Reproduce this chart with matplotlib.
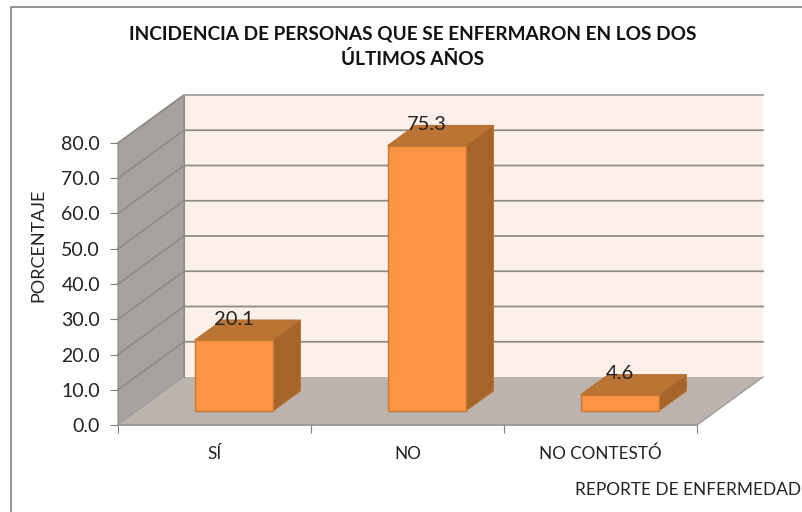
import numpy as np
import matplotlib
matplotlib.use('Agg')
import matplotlib.pyplot as plt
from matplotlib.patches import Polygon, Rectangle
from matplotlib.lines import Line2D

categories = ['SÍ', 'NO', 'NO CONTESTÓ']
values = [20.1, 75.3, 4.6]
y_ticks = [0, 10, 20, 30, 40, 50, 60, 70, 80]

W, H = 803, 512
plt.rcParams['font.family'] = ['Lato', 'DejaVu Sans']

fig = plt.figure(figsize=(W / 100, H / 100), dpi=100, facecolor='white')
# el eje coincide con el plano frontal del grafico 3D
ax = fig.add_axes([118 / W, 1 - 425 / H, (697 - 118) / W, (425 - 143) / H])
ax.set_xlim(-0.5, 2.5)
ax.set_ylim(0, 80)
ax.patch.set_visible(False)
for s in ax.spines.values():
    s.set_visible(False)

# profundidad en unidades de datos
px_x = 3.0 / 579
px_y = 80 / 282
dx = 66 * px_x
dy = 48 * px_y
x0, x1 = -0.5, 2.5


def poly(pts, **kw):
    ax.add_patch(Polygon(pts, closed=True, clip_on=False, **kw))


# marco del grafico
fig.add_artist(Line2D([11.5 / W, 11.5 / W, 1], [0, 1 - 7 / H, 1 - 7 / H], color='#808080', lw=1.2))

# paredes y piso
poly([(x0 + dx, dy), (x1 + dx, dy), (x1 + dx, 80 + dy), (x0 + dx, 80 + dy)], fc='#fdf0e8', ec='none', zorder=1)
poly([(x0, 0), (x0 + dx, dy), (x0 + dx, 80 + dy), (x0, 80)], fc='#a6a29d', ec='#8f8b87', lw=0.8, zorder=1)
poly([(x0, 0), (x1, 0), (x1 + dx, dy), (x0 + dx, dy)], fc='#bcb3ae', ec='none', zorder=1)

for t in y_ticks[1:]:
    ax.plot([x0, x0 + dx, x1 + dx], [t, t + dy, t + dy], color='#8f8b87', lw=1.3,
            clip_on=False, zorder=2)
ax.plot([x0 + dx, x1 + dx], [80 + dy, 80 + dy], color='#b0aca8', lw=1.2, clip_on=False, zorder=2)
ax.plot([x1, x1 + dx], [0, dy], color='#a09c98', lw=1, clip_on=False, zorder=2)
ax.plot([x0 + dx, x0 + dx], [dy, 80 + dy], color='#8f8b87', lw=0.8, clip_on=False, zorder=2)

# barras
bar_w = 78 * px_x
d0, d1 = 0.29, 0.71
ddx = (d1 - d0) * dx
ddy = (d1 - d0) * dy
for i, v in enumerate(values):
    cx = i + d0 * dx
    left = cx - bar_w / 2
    right = cx + bar_w / 2
    base = d0 * dy
    top = base + v
    poly([(right, base), (right + ddx, base + ddy), (right + ddx, top + ddy), (right, top)],
         fc='#a5642a', ec='#b5702f', lw=0.8, zorder=3)
    poly([(left, top), (right, top), (right + ddx, top + ddy), (left + ddx, top + ddy)],
         fc='#bb7434', ec='#b5702f', lw=0.8, zorder=3)
    ax.add_patch(Rectangle((left, base), bar_w, v, fc='#f99545', ec='#c87a35', lw=1, zorder=4))
    ax.text(cx, top + ddy + 0.3, f'{v:.1f}', ha='center', va='center',
            fontsize=14.5, color='#222222', zorder=5)

# ejes
ax.set_yticks(y_ticks)
ax.set_yticklabels([f'{t:.1f}' for t in y_ticks], fontsize=14, color='#222222', va='center_baseline')
ax.tick_params(axis='y', length=6, width=0.8, color='#808080', pad=7)
ax.set_xticks([-0.5, 0.5, 1.5, 2.5])
ax.set_xticklabels([])
ax.tick_params(axis='x', length=6, width=0.8, color='#808080')
ax.plot([x0, x1], [0, 0], color='#9a9692', lw=1.3, clip_on=False, zorder=2)
for i, c in enumerate(categories):
    ax.annotate(c, (i, 0), xytext=(0, -29), textcoords='offset pixels', ha='center', va='center',
                fontsize=12.3, color='#222222', annotation_clip=False)

fig.text(38 / W, 1 - 245 / H, 'PORCENTAJE', rotation=90, ha='center', va='center', fontsize=13, color='#222222')
fig.text(575 / W, 1 - 490 / H, 'REPORTE DE ENFERMEDAD', ha='left', va='center', fontsize=12.4, color='#222222')
fig.text(413 / W, 1 - 46.5 / H, 'INCIDENCIA DE PERSONAS QUE SE ENFERMARON EN LOS DOS\nÚLTIMOS AÑOS',
         ha='center', va='center', fontsize=13.7, fontweight='bold', color='#111111', linespacing=1.5)

fig.savefig('out.png', dpi=100)
